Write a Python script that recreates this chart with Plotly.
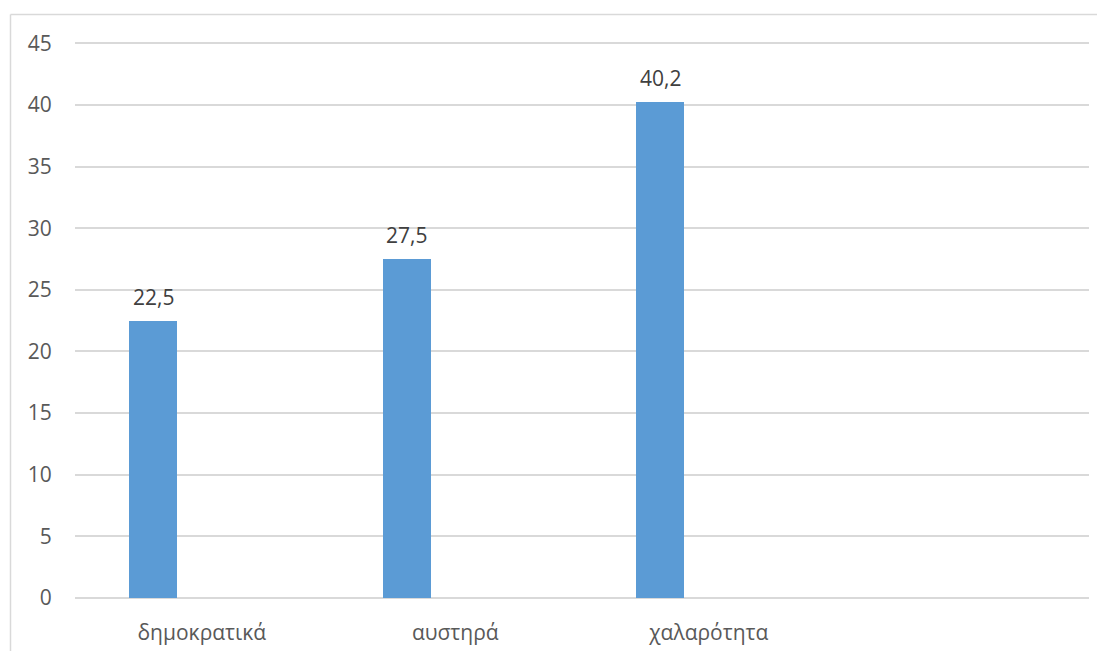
import plotly.graph_objects as go

categories = ["δημοκρατικά", "αυστηρά", "χαλαρότητα", ""]
values = [22.5, 27.5, 40.2]
y_ticks = [0, 5, 10, 15, 20, 25, 30, 35, 40, 45]

BAR_COLOR = "#5B9BD5"
GRID = "#D9D9D9"
FONT = "Open Sans"
FS = 21

xpos = list(range(len(categories)))
bar_offset = -0.287
bar_width = 0.19

fig = go.Figure()
fig.add_trace(go.Bar(
    x=xpos[:len(values)], y=values,
    offset=bar_offset, width=bar_width,
    marker=dict(color=BAR_COLOR, line=dict(width=0)),
    hoverinfo="skip", showlegend=False,
))

for i, v in enumerate(values):
    fig.add_annotation(
        x=xpos[i] + bar_offset + bar_width / 2, y=v,
        xref="x", yref="y",
        text=f"{v:.1f}".replace(".", ","),
        showarrow=False, yanchor="bottom", yshift=8,
        font=dict(family=FONT, size=FS, color="#404040"),
    )

# page body has an 8px default margin; compensate
OFF = 8
W, H = 1105 - OFF, 651 - OFF
l, r, t, b = 75 - OFF, 16, 42 - OFF, 53
pw, ph = W - l - r, H - t - b

def px_x(x):
    return (x - OFF - l) / pw

def px_y(y):
    return (H - b - (y - OFF)) / ph

fig.add_shape(type="line", xref="paper", yref="paper",
              x0=px_x(10.5), x1=px_x(10.5), y0=px_y(14.5), y1=px_y(660),
              line=dict(color=GRID, width=1.5))
fig.add_shape(type="line", xref="paper", yref="paper",
              x0=px_x(10.5), x1=px_x(1110), y0=px_y(14.5), y1=px_y(14.5),
              line=dict(color=GRID, width=1.5))

fig.update_layout(
    width=W, height=H,
    margin=dict(l=l, r=r, t=t, b=b, pad=0, autoexpand=False),
    plot_bgcolor="white", paper_bgcolor="white",
    font=dict(family=FONT, size=FS, color="#595959"),
    xaxis=dict(
        range=[-0.5, len(categories) - 0.5],
        tickmode="array", tickvals=xpos, ticktext=categories,
        showgrid=False, zeroline=False, showline=False,
        ticks="outside", ticklen=16, tickcolor="rgba(0,0,0,0)",
        tickfont=dict(family=FONT, size=FS, color="#595959"),
        automargin=False, fixedrange=True,
    ),
    yaxis=dict(
        range=[0, 45.1],
        tickmode="array", tickvals=y_ticks,
        showgrid=True, gridcolor=GRID, gridwidth=1.5,
        zeroline=True, zerolinecolor=GRID, zerolinewidth=1.5,
        showline=False,
        ticks="outside", ticklen=18, tickcolor="rgba(0,0,0,0)",
        tickfont=dict(family=FONT, size=FS, color="#595959"),
        automargin=False, fixedrange=True,
    ),
    bargap=0,
)

fig.write_html("out.html")
